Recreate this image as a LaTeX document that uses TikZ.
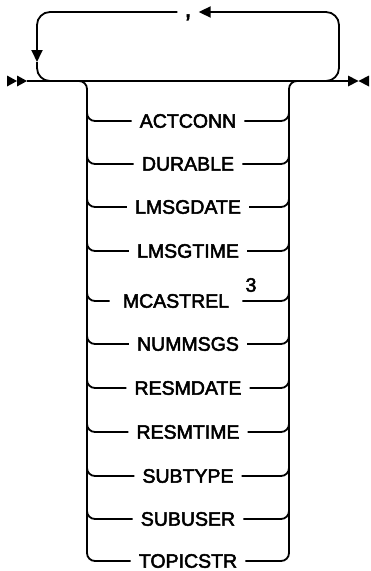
\documentclass[tikz,border=0pt]{standalone}
\usepackage{fontspec}
\setmainfont{Liberation Sans}
\newfontfamily\kwfont{Liberation Sans}[FakeBold=2.6]
\usetikzlibrary{arrows.meta}

\begin{document}
\begin{tikzpicture}[
    x=1pt, y=-1pt,
    rail/.style={line width=1.8pt, draw=black},
    turn/.style={rounded corners=8pt},
    loopturn/.style={rounded corners=13pt},
    flow/.style={-{Triangle[length=12pt, width=11pt]}},
    tip/.style={fill=black},
    keyword/.style={font=\kwfont\fontsize{19.5}{23}\selectfont, inner xsep=8pt, inner ysep=0pt, minimum height=20pt},
    note/.style={font=\kwfont\fontsize{19.5}{23}\selectfont, inner sep=0pt},
]
\useasboundingbox (0,0) rectangle (370,571);

% Main line
\coordinate (entry)  at (7,81);
\coordinate (start)  at (27,81);
\coordinate (finish) at (348,81);
\coordinate (exit)   at (369,81);
\fill[tip] (entry) ++(0,-5.5) -- ++(10,5.5) -- ++(-10,5.5) -- cycle;
\fill[tip] (entry) ++(10,-5.5) -- ++(10,5.5) -- ++(-10,5.5) -- cycle;
\draw[rail] (start) -- (finish);
\fill[tip] (finish) ++(0,-5.5) -- ++(10.5,5.5) -- ++(-10.5,5.5) -- cycle;
\fill[tip] (exit) ++(0,-5.5) -- ++(-10.5,5.5) -- ++(10.5,5.5) -- cycle;

% Repeat loop
\coordinate (loopin)  at (312,81);
\coordinate (loopTR)  at (339,12);
\coordinate (loopTL)  at (37,12);
\coordinate (loopdn)  at (37,62);
\coordinate (loopBL)  at (37,81);
\coordinate (loopout) at (62,81);
\node[note, inner xsep=7pt, anchor=base, font=\kwfont\fontsize{25}{25}\selectfont] (comma) at (188,17) {,};
\draw[rail, loopturn, flow] (loopin) -| (loopTR) -- (comma.east |- loopTR);
\draw[rail, loopturn, flow] (comma.west |- loopTL) -- (loopTL) -- (loopdn);
\draw[rail, loopturn] (loopdn) -- (loopBL) -- (loopout);

% Keywords
\node[keyword] (actconn)  at (188,121) {ACTCONN};
\node[keyword] (durable)  at (188,164) {DURABLE};
\node[keyword] (lmsgdate) at (188,207) {LMSGDATE};
\node[keyword] (lmsgtime) at (188,251) {LMSGTIME};
\node[keyword, inner xsep=13pt] (mcastrel) at (176,301) {MCASTREL};
\node[note] (mcnote) at (251,285) {3};
\node[keyword] (nummsgs)  at (188,344) {NUMMSGS};
\node[keyword] (resmdate) at (188,388) {RESMDATE};
\node[keyword] (resmtime) at (188,432) {RESMTIME};
\node[keyword] (subtype)  at (188,476) {SUBTYPE};
\node[keyword] (subuser)  at (188,519) {SUBUSER};
\node[keyword] (topicstr) at (188,561) {TOPICSTR};

% Side rails
\coordinate (railin)  at (78,81);
\coordinate (railL)   at (87,81);
\coordinate (railR)   at (289,81);
\coordinate (railout) at (298,81);
\draw[rail, turn] (railin) -| (railL |- topicstr) -- (topicstr.west);
\draw[rail, turn] (topicstr.east) -| (railR) -- (railout);

% Branches
\draw[rail, turn] (railL |- actconn.north) |- (actconn.west);
\draw[rail, turn] (actconn.east) -| (railR |- actconn.north);
\draw[rail, turn] (railL |- durable.north) |- (durable.west);
\draw[rail, turn] (durable.east) -| (railR |- durable.north);
\draw[rail, turn] (railL |- lmsgdate.north) |- (lmsgdate.west);
\draw[rail, turn] (lmsgdate.east) -| (railR |- lmsgdate.north);
\draw[rail, turn] (railL |- lmsgtime.north) |- (lmsgtime.west);
\draw[rail, turn] (lmsgtime.east) -| (railR |- lmsgtime.north);
\draw[rail, turn] (railL |- mcastrel.north) |- (mcastrel.west);
\draw[rail, turn] (mcastrel.east) -| (railR |- mcastrel.north);
\draw[rail, turn] (railL |- nummsgs.north) |- (nummsgs.west);
\draw[rail, turn] (nummsgs.east) -| (railR |- nummsgs.north);
\draw[rail, turn] (railL |- resmdate.north) |- (resmdate.west);
\draw[rail, turn] (resmdate.east) -| (railR |- resmdate.north);
\draw[rail, turn] (railL |- resmtime.north) |- (resmtime.west);
\draw[rail, turn] (resmtime.east) -| (railR |- resmtime.north);
\draw[rail, turn] (railL |- subtype.north) |- (subtype.west);
\draw[rail, turn] (subtype.east) -| (railR |- subtype.north);
\draw[rail, turn] (railL |- subuser.north) |- (subuser.west);
\draw[rail, turn] (subuser.east) -| (railR |- subuser.north);

\end{tikzpicture}
\end{document}
